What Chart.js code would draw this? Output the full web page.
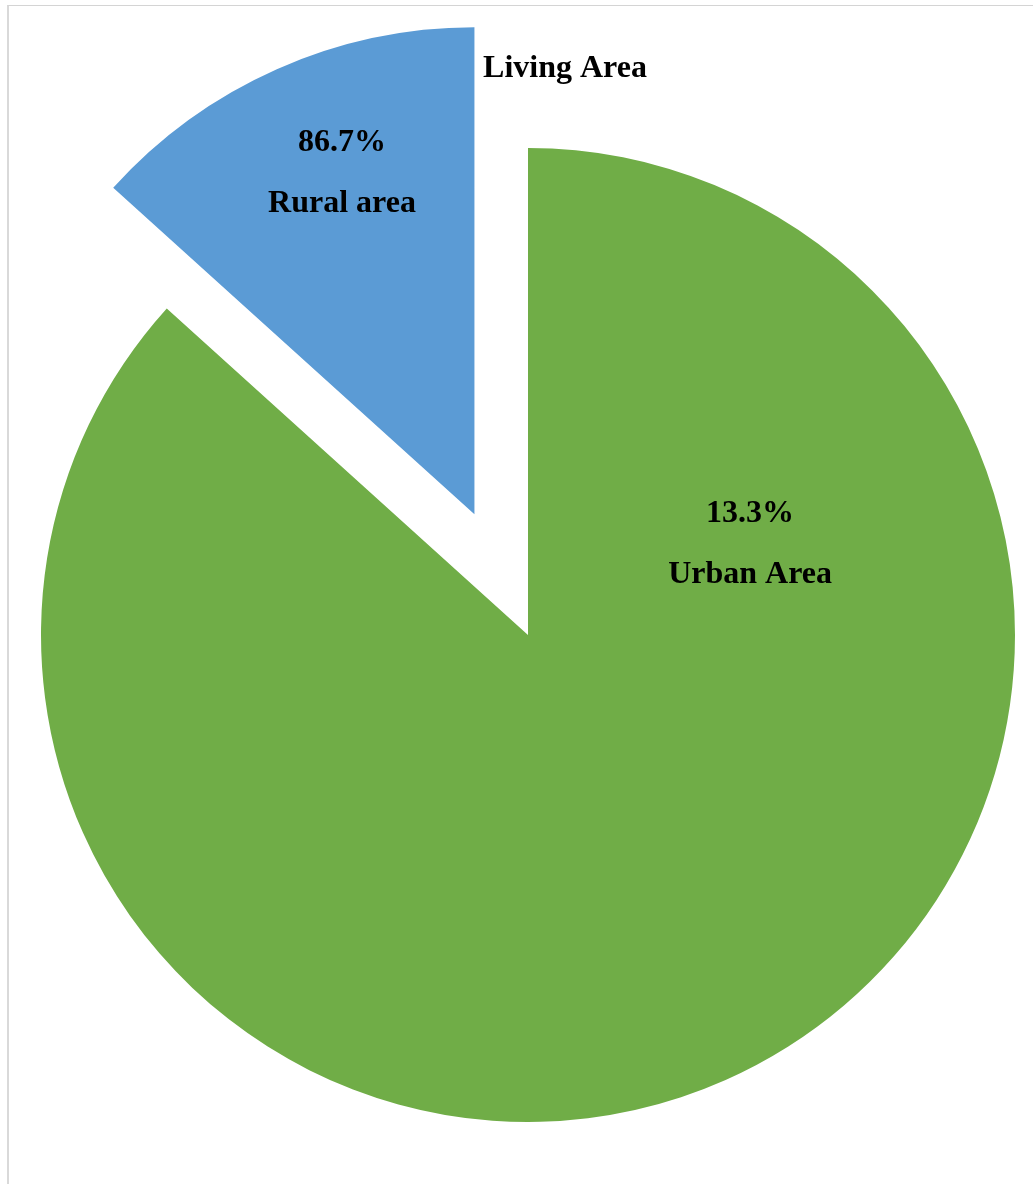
<!DOCTYPE html>
<html>
<head>
<meta charset="utf-8">
<title>Living Area</title>
<script src="https://cdn.jsdelivr.net/npm/chart.js@4.4.1/dist/chart.umd.min.js"></script>
<style>
  html, body { margin: 0; padding: 0; background: #ffffff; }
  #wrap { position: relative; width: 1033px; height: 1184px; overflow: hidden; }
  #frame {
    position: absolute; left: 7px; top: 5px; right: 0; bottom: 0;
    border-top: 1px solid #d4d4d4; border-left: 2px solid #d9d9d9;
    pointer-events: none;
  }
  canvas { display: block; }
</style>
</head>
<body>
<div id="wrap">
  <canvas id="chart" width="1033" height="1184"></canvas>
  <div id="frame"></div>
</div>
<script>
// Pie data: slices drawn clockwise from 12 o'clock
const chartTitle = 'Living Area';
const categories = ['Urban Area', 'Rural area'];
const shares = [86.7, 13.3];
const shareLabels = ['13.3%', '86.7%'];
const sliceColors = ['#70AD47', '#5B9BD5'];
const explodePx = [0, 132];

const FONT = 'bold 32px "Liberation Serif", "Times New Roman", serif';

// label anchors in units of the pie radius, relative to the pie centre
const labelAnchors = [[0.456, -0.169], [-0.382, -0.932]];
const titleAnchor = [0.076, -1.145];
const lineGap = 61;

// pull a slice out along its bisector without changing its radius or angles
const explodeSlices = {
  id: 'explodeSlices',
  afterDatasetUpdate(chart, args) {
    args.meta.data.forEach((arc, i) => {
      const d = explodePx[i] || 0;
      if (!d) return;
      const mid = (arc.startAngle + arc.endAngle) / 2;
      arc.x += Math.cos(mid) * d;
      arc.y += Math.sin(mid) * d;
    });
  }
};

const sliceText = {
  id: 'sliceText',
  afterDatasetsDraw(chart) {
    const meta = chart.getDatasetMeta(0);
    const R = meta.controller.outerRadius;
    const cx = (chart.chartArea.left + chart.chartArea.right) / 2;
    const cy = (chart.chartArea.top + chart.chartArea.bottom) / 2;
    const ctx = chart.ctx;
    ctx.save();
    ctx.font = FONT;
    ctx.fillStyle = '#000000';
    ctx.textAlign = 'center';
    ctx.textBaseline = 'alphabetic';
    meta.data.forEach((arc, i) => {
      const x = cx + labelAnchors[i][0] * R;
      const y = cy + labelAnchors[i][1] * R;
      ctx.fillText(shareLabels[i], x, y - lineGap / 2);
      ctx.fillText(categories[i], x, y + lineGap / 2);
    });
    ctx.fillText(chartTitle, cx + titleAnchor[0] * R, cy + titleAnchor[1] * R);
    ctx.restore();
  }
};

new Chart(document.getElementById('chart'), {
  type: 'pie',
  data: {
    labels: categories,
    datasets: [{
      data: shares,
      backgroundColor: sliceColors,
      borderWidth: 0,
      radius: 487
    }]
  },
  options: {
    responsive: false,
    animation: false,
    layout: { padding: { left: 23, top: 86, right: 0, bottom: 0 } },
    plugins: {
      legend: { display: false },
      tooltip: { enabled: false },
      title: { display: false }
    }
  },
  plugins: [explodeSlices, sliceText]
});
</script>
</body>
</html>
